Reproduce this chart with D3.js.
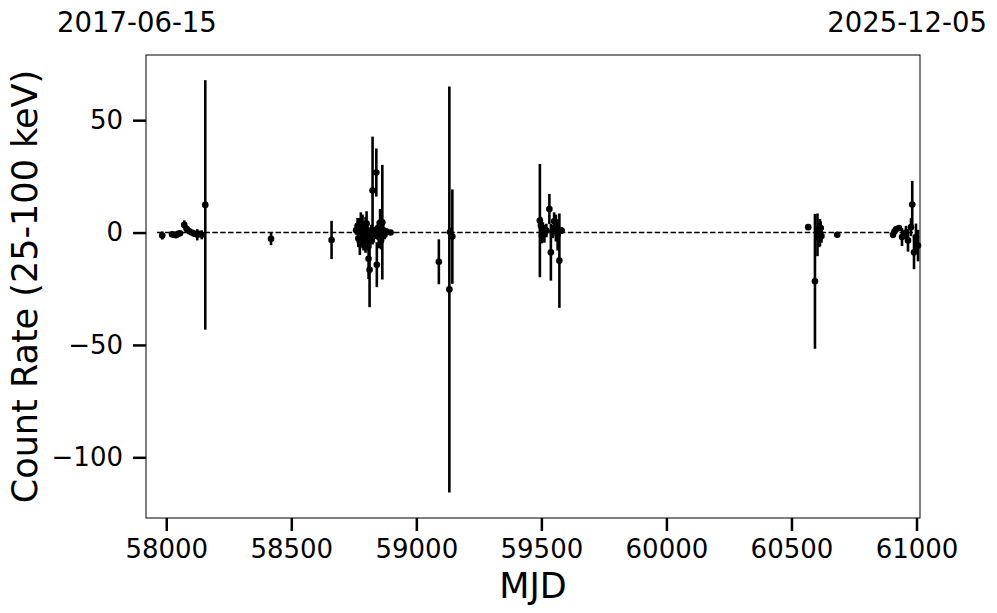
<!DOCTYPE html>
<html>
<head>
<meta charset="utf-8">
<script src="https://cdn.jsdelivr.net/npm/d3@7"></script>
<style>
  body { margin: 0; background: #fff; }
  svg text { font-family: "DejaVu Sans", sans-serif; fill: #000; }
</style>
</head>
<body>
<script>
// light curve points: MJD, count rate, 1-sigma error
var mjd = [
  57984, 58023, 58031, 58039, 58047, 58055, 58072, 58082, 58092, 58102, 58112, 58124, 58132, 58142, 58156,
  58419, 58661,
  58759, 58765, 58768, 58771, 58774, 58778, 58781, 58785, 58789, 58793, 58797, 58801, 58805, 58809, 58813,
  58816, 58820, 58825, 58830, 58835, 58840, 58842, 58846, 58850, 58855, 58859, 58864, 58868, 58873, 58880, 58897,
  59090, 59132, 59135, 59144,
  59494, 59498, 59502, 59506, 59512, 59520, 59532, 59538, 59545, 59551, 59558, 59565, 59572, 59581,
  60567, 60594, 60604, 60608, 60611, 60614, 60617, 60620, 60683,
  60906, 60912, 60918, 60930, 60942, 60958, 60966, 60978, 60983, 60990, 60998, 61006
];
var rate = [
  -1.3, -0.8, -1.0, -1.2, -0.6, -0.3, 3.4, 1.6, 0.6, 0.0, -0.5, -1.0, -0.5, -1.0, 12.3,
  -2.8, -3.3,
  1.0, 3.0, -2.5, 1.5, -4.0, 2.5, -1.5, 0.5, -3.5, 2.0, -1.0, 4.0, -2.0, -11.7, -16.6,
  -3.0, 1.0, 18.7, -1.5, 0.5, 26.7, -14.3, 2.0, -2.0, 4.5, -3.5, 4.6, 1.0, -1.0, 0.5, 0.0,
  -13.0, -25.3, 0.2, -1.8,
  5.3, 3.0, -1.3, 1.6, -0.5, 0.9, 10.5, -8.8, 0.5, 5.0, 2.0, -1.0, -12.5, 0.9,
  2.4, -21.7, -1.0, 1.5, -2.5, 0.0, 2.0, -1.5, -1.0,
  -1.0, 0.5, 1.5, 2.0, -2.0, 0.0, -3.5, 2.4, 12.5, -8.8, -2.0, -5.8
];
var rateErr = [
  1.8, 1.0, 1.2, 1.0, 1.0, 1.0, 2.0, 1.5, 1.2, 1.0, 1.5, 2.5, 1.2, 2.0, 55.5,
  2.8, 8.5,
  2.0, 3.5, 4.0, 5.0, 6.0, 6.5, 5.0, 7.5, 4.5, 3.0, 8.0, 5.5, 6.0, 9.0, 16.6,
  4.0, 2.5, 24.0, 3.0, 2.0, 10.7, 10.0, 3.0, 5.0, 6.0, 4.0, 25.5, 3.0, 2.0, 1.5, 1.0,
  10.0, 90.3, 2.0, 21.0,
  25.2, 4.0, 3.5, 3.0, 4.0, 3.0, 6.7, 12.6, 3.0, 4.0, 6.0, 7.0, 21.0, 1.5,
  1.0, 30.0, 9.5, 3.0, 4.0, 6.0, 3.0, 3.0, 1.2,
  1.5, 1.5, 1.2, 1.2, 4.0, 3.0, 5.0, 4.0, 10.5, 7.5, 6.0, 7.0
];
var xTicks = [58000, 58500, 59000, 59500, 60000, 60500, 61000];
var yTicks = [-100, -50, 0, 50];
var dateLabels = ["2017-06-15", "2025-12-05"];

var data = mjd.map(function(d, i) { return [d, rate[i], rateErr[i]]; });

var width = 997, height = 613;
var margin = {left: 146, right: 77, top: 55, bottom: 95};

var svg = d3.select('body').append('svg')
  .attr('width', width)
  .attr('height', height);

var x = d3.scaleLinear()
  .domain([57919, 61014])
  .range([margin.left, width - margin.right]);
var y = d3.scaleLinear()
  .domain([-127, 79])
  .range([height - margin.bottom, margin.top]);

// zero reference line
svg.append('line')
  .attr('x1', x(57963)).attr('x2', x(61010))
  .attr('y1', y(0)).attr('y2', y(0))
  .attr('stroke', '#000')
  .attr('stroke-width', 1.5)
  .attr('stroke-dasharray', '5.5,2.4');

var g = svg.append('g');
g.selectAll('line.err').data(data).enter().append('line')
  .attr('class', 'err')
  .attr('x1', function(d) { return x(d[0]); })
  .attr('x2', function(d) { return x(d[0]); })
  .attr('y1', function(d) { return y(d[1] - d[2]); })
  .attr('y2', function(d) { return y(d[1] + d[2]); })
  .attr('stroke', '#000')
  .attr('stroke-width', 2.6);
g.selectAll('circle').data(data).enter().append('circle')
  .attr('cx', function(d) { return x(d[0]); })
  .attr('cy', function(d) { return y(d[1]); })
  .attr('r', 3.3)
  .attr('fill', '#000');

// frame
svg.append('rect')
  .attr('x', margin.left).attr('y', margin.top)
  .attr('width', width - margin.left - margin.right)
  .attr('height', height - margin.top - margin.bottom)
  .attr('fill', 'none')
  .attr('stroke', '#000')
  .attr('stroke-width', 1);

var xAxis = svg.append('g')
  .attr('transform', 'translate(0,' + (height - margin.bottom) + ')')
  .call(d3.axisBottom(x).tickValues(xTicks).tickFormat(d3.format('d')).tickSize(13).tickPadding(9));
var yAxis = svg.append('g')
  .attr('transform', 'translate(' + margin.left + ',0)')
  .call(d3.axisLeft(y).tickValues(yTicks).tickFormat(function(d) { return d < 0 ? '\u2212' + (-d) : d; }).tickSize(13).tickPadding(10));
[xAxis, yAxis].forEach(function(a) {
  a.select('.domain').remove();
  a.selectAll('line').attr('stroke-width', 2.5);
  a.selectAll('text').style('font-size', '26px');
});

svg.append('text')
  .attr('x', (margin.left + width - margin.right) / 2)
  .attr('y', 598)
  .attr('text-anchor', 'middle')
  .style('font-size', '35px')
  .text('MJD');
svg.append('text')
  .attr('transform', 'translate(37,' + ((margin.top + height - margin.bottom) / 2) + ') rotate(-90)')
  .attr('text-anchor', 'middle')
  .style('font-size', '35px')
  .text('Count Rate (25-100 keV)');

svg.append('text')
  .attr('x', 57).attr('y', 32)
  .style('font-size', '27.5px')
  .text(dateLabels[0]);
svg.append('text')
  .attr('x', 987).attr('y', 32)
  .attr('text-anchor', 'end')
  .style('font-size', '27.5px')
  .text(dateLabels[1]);
</script>
</body>
</html>
